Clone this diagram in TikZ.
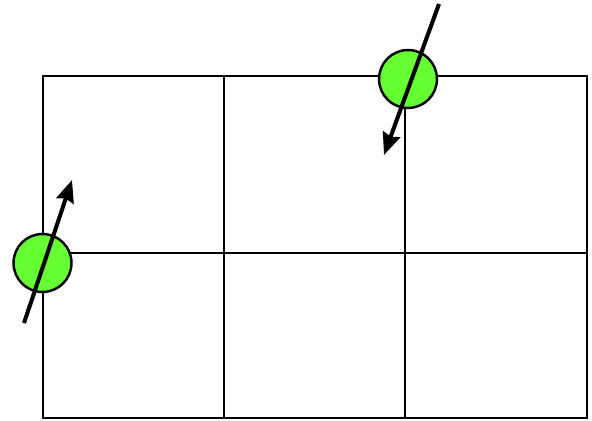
\documentclass[tikz,border=0pt]{standalone}
\usetikzlibrary{arrows.meta}
\definecolor{gridblack}{HTML}{000000}
\definecolor{spingreen}{HTML}{66FF33}

\begin{document}
\begin{tikzpicture}[x=0.02cm, y=-0.02cm, >={Stealth[length=0.44cm, width=0.36cm, inset=0.05cm]},
  gridline/.style={gridblack, line width=1.5pt},
  spin/.style={circle, draw=gridblack, fill=spingreen, line width=1.4pt, minimum size=1.16cm, inner sep=0pt},
  spinarrow/.style={->, gridblack, line width=2.3pt}]
  \useasboundingbox (0,0) rectangle (592,420);
  % lattice
  \draw[gridline] (43,76) rectangle (587,418);
  \draw[gridline] (43,253) -- (587,253);
  \draw[gridline] (224,76) -- (224,418);
  \draw[gridline] (405,76) -- (405,418);
  % spins on lattice sites
  \node[spin] (spinleft) at (42.5,263) {};
  \node[spin] (spintop) at (408,79) {};
  \coordinate (lefttail) at (24,323);
  \coordinate (lefthead) at (72,180);
  \coordinate (toptail) at (439,4);
  \coordinate (tophead) at (384,155);
  \draw[spinarrow] (lefttail) -- (lefthead);
  \draw[spinarrow] (toptail) -- (tophead);
\end{tikzpicture}
\end{document}
